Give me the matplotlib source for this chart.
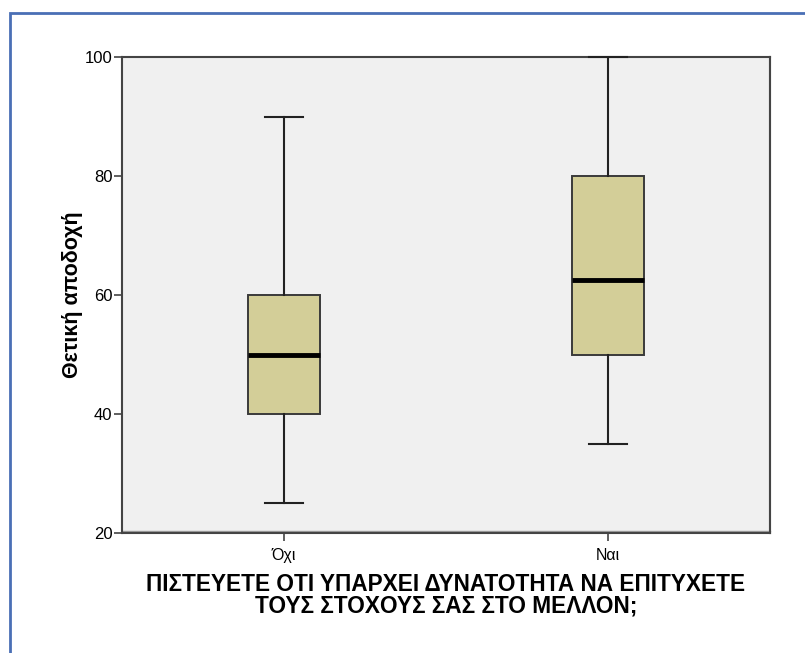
import matplotlib.pyplot as plt
from matplotlib.patches import Rectangle

plt.rcParams['font.family'] = ['Liberation Sans', 'DejaVu Sans']

# box statistics per group
groups = ['Όχι', 'Ναι']
whislo = [25, 35]
q1 = [40, 50]
med = [50, 62.5]
q3 = [60, 80]
whishi = [90, 100]

stats = []
for i in range(len(groups)):
    stats.append({'label': groups[i], 'whislo': whislo[i], 'q1': q1[i],
                  'med': med[i], 'q3': q3[i], 'whishi': whishi[i], 'fliers': []})

fig = plt.figure(figsize=(8.05, 6.53), dpi=100)

# blue outer frame
fig.patches.append(Rectangle((10 / 805, -0.1), 1.1, 1 - 13 / 653 + 0.1,
                             transform=fig.transFigure, fill=False,
                             edgecolor='#4A6FB5', linewidth=2))

ax = fig.add_axes([122 / 805, 1 - 533 / 653, 648 / 805, 476 / 653])
ax.set_facecolor('#F0F0F0')

parts = ax.bxp(stats, positions=[1, 2], widths=0.225, patch_artist=True,
               showfliers=False,
               boxprops=dict(facecolor='#D3CE98', edgecolor='#3A3A3A', linewidth=1.4),
               medianprops=dict(color='black', linewidth=3.5),
               whiskerprops=dict(color='#222222', linewidth=1.5),
               capprops=dict(color='#222222', linewidth=1.5),
               capwidths=0.115)
for c in parts['caps']:
    c.set_clip_on(False)
    c.set_zorder(5)

ax.set_xlim(0.5, 2.5)
ax.set_ylim(20, 100)
ax.set_yticks([20, 40, 60, 80, 100])
ax.set_xticks([1, 2])
ax.set_xticklabels(groups)

for s in ax.spines.values():
    s.set_color('#444444')
    s.set_linewidth(1.5)

# faint shadow along the right and bottom edges of the plot area
ax.plot([1.0, 1.0], [0, 1], transform=ax.transAxes, color='#9A9A9A',
        linewidth=1.5, clip_on=False, zorder=0)
ax.plot([0, 1.0], [0.004, 0.004], transform=ax.transAxes, color='#9A9A9A',
        linewidth=1.0, clip_on=False, zorder=0)

ax.tick_params(axis='y', labelsize=12, length=6, width=1.2, color='#444444', pad=1)
ax.tick_params(axis='x', labelsize=11.5, length=6, width=1.2, color='#444444', pad=5)

ax.set_ylabel('Θετική αποδοχή', fontsize=15.5, fontweight='bold', labelpad=1)
ax.set_xlabel('ΠΙΣΤΕΥΕΤΕ ΟΤΙ ΥΠΑΡΧΕΙ ΔΥΝΑΤΟΤΗΤΑ ΝΑ ΕΠΙΤΥΧΕΤΕ\nΤΟΥΣ ΣΤΟΧΟΥΣ ΣΑΣ ΣΤΟ ΜΕΛΛΟΝ;',
              fontsize=16.3, fontweight='bold', labelpad=7, linespacing=0.92)

fig.savefig('out.png', dpi=100)
